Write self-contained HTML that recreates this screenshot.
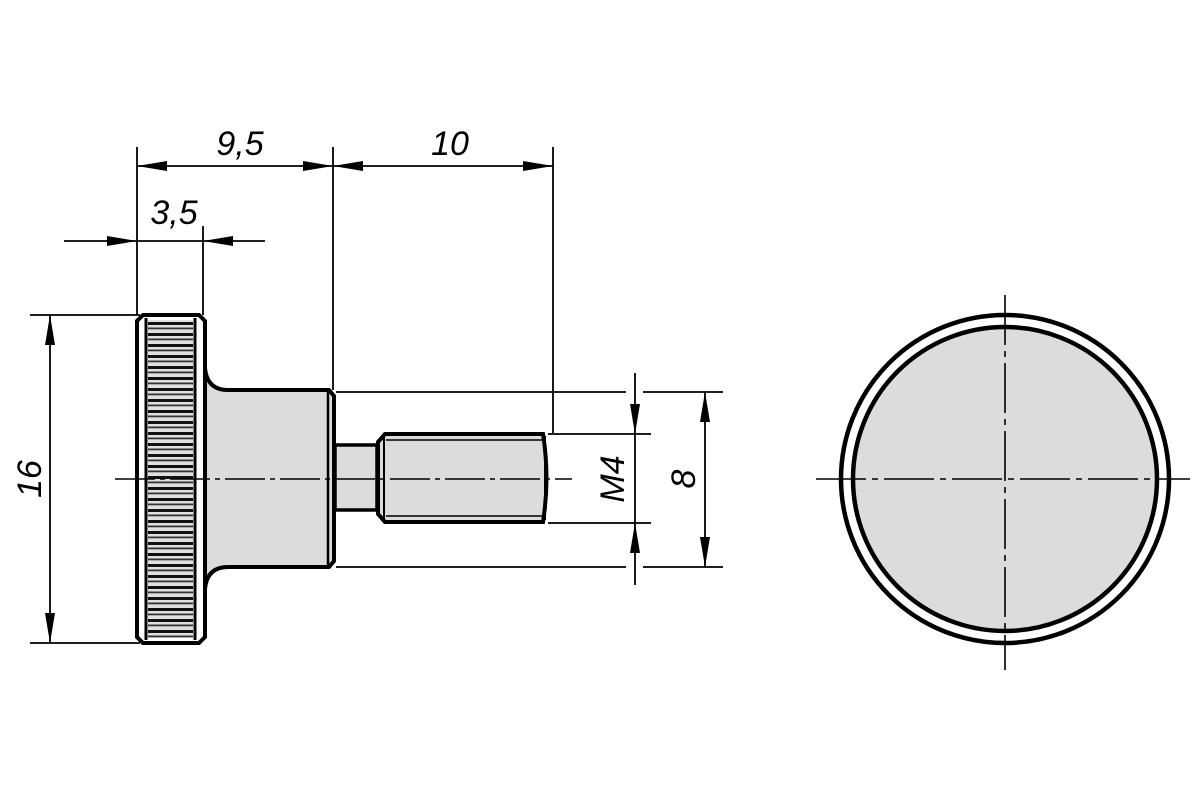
<!DOCTYPE html>
<html><head><meta charset="utf-8"><style>html,body{margin:0;padding:0;background:#fff}svg{display:block}</style></head>
<body>
<svg width="1200" height="800" viewBox="0 0 1200 800" xmlns="http://www.w3.org/2000/svg" font-family="Liberation Sans, sans-serif">
<defs>
<pattern id="kn" x="0" y="322" width="10" height="11" patternUnits="userSpaceOnUse">
<rect width="10" height="11" fill="#e0e0e0"/>
<rect y="0" width="10" height="3" fill="#111"/>
<rect y="5.5" width="10" height="1.8" fill="#333"/>
</pattern>
</defs>
<g stroke="#000" fill="none">
<path d="M143,315 L199,315 L205,321 L205,637 L199,643 L143,643 L137,637 L137,321 Z" fill="#fff" stroke-width="4"/>
<rect x="148" y="320" width="45" height="318" fill="url(#kn)" stroke="none"/>
<line x1="146" y1="318" x2="146" y2="640" stroke-width="3"/>
<line x1="195" y1="318" x2="195" y2="640" stroke-width="3"/>
<path d="M205,368 Q207,390 228,390 L329,390 L334,396 L334,561 L329,567 L228,567 Q207,567 205,589 Z" fill="#dcdcdc" stroke-width="4"/>
<line x1="328" y1="392" x2="328" y2="565" stroke-width="2.5"/>
<rect x="335" y="445" width="42" height="65" fill="#dcdcdc" stroke-width="3.5"/>
<path d="M385,434 L543,434 Q550,478 543,522 L385,522 L378,514 L378,442 Z" fill="#dcdcdc" stroke-width="4"/>
<line x1="384" y1="436" x2="384" y2="520" stroke-width="2"/>
<line x1="386" y1="440" x2="542" y2="440" stroke-width="1.5"/>
<line x1="386" y1="516" x2="542" y2="516" stroke-width="1.5"/>
<line x1="545" y1="436" x2="545" y2="520" stroke-width="2"/>
<line x1="115" y1="479" x2="572" y2="479" stroke-width="1.6" stroke-dasharray="40,5,5,5"/>
<g stroke-width="1.8">
<line x1="137" y1="147" x2="137" y2="315"/>
<line x1="203" y1="226" x2="203" y2="315"/>
<line x1="333" y1="147" x2="333" y2="390"/>
<line x1="553" y1="147" x2="553" y2="433"/>
<line x1="30" y1="315" x2="140" y2="315"/>
<line x1="30" y1="643" x2="140" y2="643"/>
<line x1="336" y1="392" x2="626" y2="392"/>
<line x1="643" y1="392" x2="723" y2="392"/>
<line x1="336" y1="567" x2="626" y2="567"/>
<line x1="643" y1="567" x2="723" y2="567"/>
<line x1="548" y1="434" x2="651" y2="434"/>
<line x1="548" y1="523" x2="651" y2="523"/>
<line x1="137" y1="166" x2="553" y2="166"/>
<line x1="64" y1="241" x2="265" y2="241"/>
<line x1="50" y1="315" x2="50" y2="643"/>
<line x1="635" y1="373" x2="635" y2="585"/>
<line x1="705" y1="392" x2="705" y2="567"/>
</g>
</g>
<g fill="#000">
<polygon points="137,166 167,161 167,171"/>
<polygon points="333,166 303,161 303,171"/>
<polygon points="333,166 363,161 363,171"/>
<polygon points="553,166 523,161 523,171"/>
<polygon points="137,241 107,236 107,246"/>
<polygon points="203,241 233,236 233,246"/>
<polygon points="50,315 45,345 55,345"/>
<polygon points="50,643 45,613 55,613"/>
<polygon points="635,434 630,404 640,404"/>
<polygon points="635,523 630,553 640,553"/>
<polygon points="705,392 700,422 710,422"/>
<polygon points="705,567 700,537 710,537"/>
</g>
<g font-size="34" font-style="italic" fill="#000" text-anchor="middle">
<text x="240" y="155">9,5</text>
<text x="450" y="155">10</text>
<text x="174" y="224">3,5</text>
<text transform="translate(41,479) rotate(-90)">16</text>
<text transform="translate(624,479) rotate(-90)">M4</text>
<text transform="translate(695,479) rotate(-90)">8</text>
</g>
<g stroke="#000" fill="none">
<circle cx="1005" cy="479" r="164" stroke-width="4.5"/>
<circle cx="1005" cy="479" r="152" fill="#dcdcdc" stroke-width="4.5"/>
<line x1="816" y1="479" x2="1190" y2="479" stroke-width="1.6" stroke-dasharray="50,6,6,6"/>
<line x1="1005" y1="295" x2="1005" y2="670" stroke-width="1.6" stroke-dasharray="50,6,6,6"/>
</g>
</svg>
</body></html>
